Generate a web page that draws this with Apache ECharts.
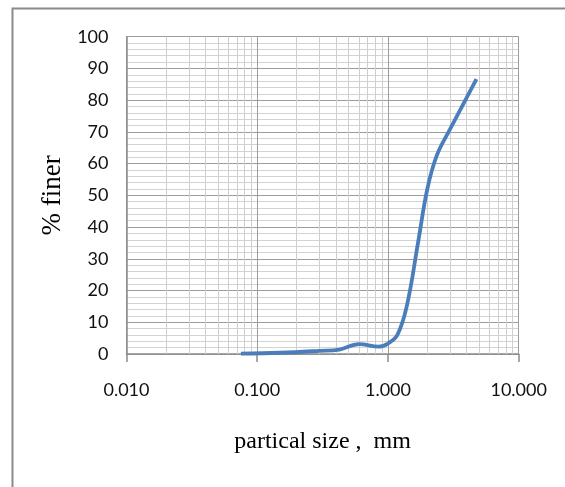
<!DOCTYPE html>
<html>
<head>
<meta charset="utf-8">
<script src="https://cdn.jsdelivr.net/npm/echarts@6/dist/echarts.min.js"></script>
<style>
html,body{margin:0;padding:0;background:#fff;}
#chart{width:565px;height:487px;}
</style>
</head>
<body>
<div id="chart"></div>
<script>
// Particle size (mm) and percent finer
var sizes = [0.075, 0.15, 0.3, 0.425, 0.6, 0.85, 1.0, 1.18, 1.4, 1.7, 2.0, 2.36, 3.0, 4.75];
var finer = [0.1, 0.4, 1.0, 1.4, 3.1, 2.3, 3.3, 6.0, 15.5, 35.2, 52.0, 62.5, 71.0, 86.6];
var xTickLabels = ['0.010', '0.100', '1.000', '10.000'];
var yTicks = [0, 10, 20, 30, 40, 50, 60, 70, 80, 90, 100];

var points = sizes.map(function (s, i) { return [s, finer[i]]; });

// minor log gridlines (2..9 of each decade)
var minorX = [];
[0.01, 0.1, 1].forEach(function (d) {
  for (var k = 2; k <= 9; k++) minorX.push({ xAxis: +(d * k).toFixed(4) });
});

var labelFont = "'Lato', sans-serif";

var chart = echarts.init(document.getElementById('chart'));
chart.setOption({
  animation: false,
  backgroundColor: '#ffffff',
  graphic: [{
    type: 'polyline',
    shape: { points: [[12.5, 600], [12.5, 8.5], [700, 8.5]] },
    style: { stroke: '#8a8a8a', lineWidth: 2, fill: null },
    silent: true
  }],
  grid: { left: 126.5, right: 46.3, top: 36.7, bottom: 133 },
  xAxis: {
    type: 'log',
    logBase: 10,
    min: 0.01,
    max: 10,
    name: 'partical size ,  mm',
    nameLocation: 'middle',
    nameGap: 76,
    nameTextStyle: { fontFamily: 'Liberation Serif', fontSize: 24, color: '#000' },
    axisLine: { show: true, lineStyle: { color: '#8c8c8c', width: 1.5 } },
    axisTick: { show: true, length: 8, lineStyle: { color: '#8c8c8c', width: 1.5 } },
    axisLabel: {
      margin: 27,
      fontFamily: labelFont,
      fontSize: 18,
      color: '#111',
      formatter: function (v) {
        var idx = Math.round(Math.log10(v)) + 2;
        return xTickLabels[idx] !== undefined ? xTickLabels[idx] : '';
      }
    },
    splitLine: { show: true, lineStyle: { color: '#9c9c9c', width: 1 } }
  },
  yAxis: {
    type: 'value',
    min: yTicks[0],
    max: yTicks[yTicks.length - 1],
    interval: 10,
    name: '% finer',
    nameLocation: 'middle',
    nameGap: 58,
    nameRotate: 90,
    nameTextStyle: { fontFamily: 'Liberation Serif', fontSize: 27, color: '#000' },
    axisLine: { show: true, lineStyle: { color: '#8c8c8c', width: 1.5 } },
    axisTick: { show: false },
    axisLabel: { margin: 18, fontFamily: labelFont, fontSize: 18, color: '#111' },
    splitLine: { show: true, lineStyle: { color: '#9c9c9c', width: 1 } },
    minorTick: { show: false, splitNumber: 5 },
    minorSplitLine: { show: true, lineStyle: { color: '#d3d3d3', width: 1 } }
  },
  series: [
    {
      type: 'line',
      data: [],
      z: 1,
      silent: true,
      markLine: {
        silent: true,
        symbol: ['none', 'none'],
        label: { show: false },
        animation: false,
        lineStyle: { color: '#cfcfcf', width: 1, type: 'solid' },
        emphasis: { disabled: true },
        data: minorX
      }
    },
    {
      type: 'line',
      data: points,
      z: 5,
      smooth: 0.4,
      symbol: 'none',
      lineStyle: { color: '#4a7ebb', width: 3.8 }
    }
  ]
});
</script>
</body>
</html>
